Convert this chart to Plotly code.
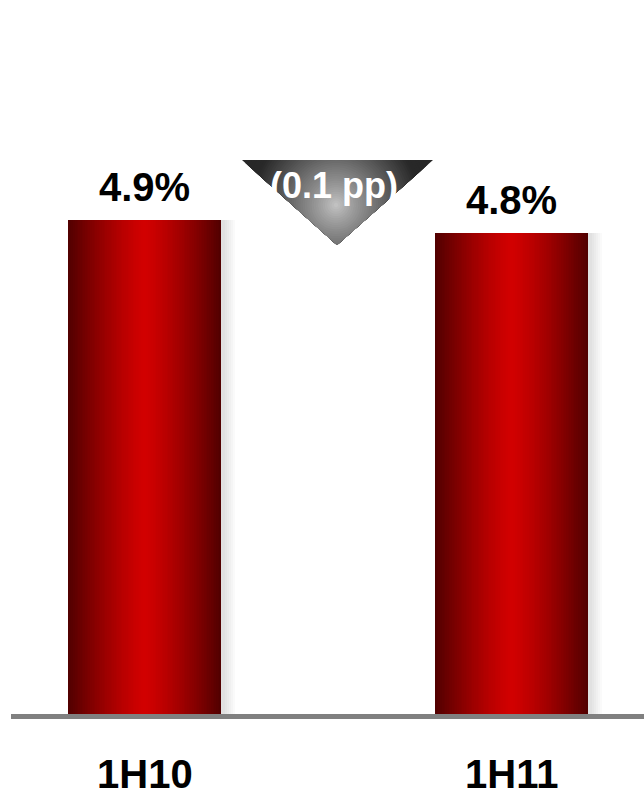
import numpy as np
import plotly.graph_objects as go

# Data
periods = ["1H10", "1H11"]
ratios = [4.9, 4.8]          # percent
change_pp = round(ratios[1] - ratios[0], 1)

W, H = 644, 799
ML, MB = 11, 85               # plot area: x 11..644, y 0..714
PLOT_W, PLOT_H = W - ML, H - MB

X_RANGE = [-0.3638, 1.361]
Y_RANGE = [1.10, 6.592]
BAR_W = 0.417

EDGE = np.array([82, 0, 0])
CENTER = np.array([210, 0, 0])


def rgb(c):
    c = np.clip(np.round(c), 0, 255).astype(int)
    return f"rgb({c[0]},{c[1]},{c[2]})"


def px_to_paper(x, y):
    return (x - ML) / PLOT_W, (PLOT_H - y) / PLOT_H


fig = go.Figure()
xs = list(range(len(periods)))

# soft shadow to the right of each column
unit = (PLOT_W) / (X_RANGE[1] - X_RANGE[0])
for ext in (12, 10, 8, 6, 4, 2):
    e = ext / unit
    fig.add_trace(go.Bar(
        x=xs, y=ratios, width=BAR_W + e, offset=-BAR_W / 2 + 2 / unit,
        marker=dict(color="rgba(0,0,0,0.018)", line=dict(width=0)),
        hoverinfo="skip", showlegend=False,
    ))

# columns with a horizontal dark-bright-dark gradient (nested overlay bars)
N = 45
for k in range(N):
    f = 1 - k / N
    c = CENTER + (EDGE - CENTER) * (f ** 1.3)
    fig.add_trace(go.Bar(
        x=xs, y=ratios, width=BAR_W * f,
        marker=dict(color=rgb(c), line=dict(width=0)),
        hoverinfo="skip", showlegend=False,
    ))

# value labels
for i, v in enumerate(ratios):
    fig.add_annotation(
        x=i, y=v, text=f"<b>{v:.1f}%</b>", showarrow=False,
        yanchor="middle", yshift=33,
        font=dict(family="Arial, Liberation Sans", size=40, color="black"),
    )

# category labels
for i, p in enumerate(periods):
    fig.add_annotation(
        x=i, y=(PLOT_H - 774) / PLOT_H, yref="paper", text=f"<b>{p}</b>",
        showarrow=False, yanchor="middle",
        font=dict(family="Arial, Liberation Sans", size=40, color="black"),
    )

shapes = []
# baseline
shapes.append(dict(type="line", xref="paper", yref="paper",
                   x0=0, x1=1, y0=(PLOT_H - 716.5) / PLOT_H, y1=(PLOT_H - 716.5) / PLOT_H,
                   line=dict(color="#808080", width=5), layer="above"))


# change marker: downward triangle with a radial grey gradient
tri = [(242.0, 160.0), (337.0, 245.0), (433.0, 160.0)]


def clip_poly(poly, clipper):
    def inside(p, a, b):
        return (b[0] - a[0]) * (p[1] - a[1]) - (b[1] - a[1]) * (p[0] - a[0]) >= 0

    def inter(p, q, a, b):
        x1, y1 = p; x2, y2 = q; x3, y3 = a; x4, y4 = b
        den = (x1 - x2) * (y3 - y4) - (y1 - y2) * (x3 - x4)
        t = ((x1 - x3) * (y3 - y4) - (y1 - y3) * (x3 - x4)) / den
        return (x1 + t * (x2 - x1), y1 + t * (y2 - y1))

    out = poly
    n = len(clipper)
    for i in range(n):
        a, b = clipper[i], clipper[(i + 1) % n]
        inp, out = out, []
        if not inp:
            break
        s = inp[-1]
        for e in inp:
            if inside(e, a, b):
                if not inside(s, a, b):
                    out.append(inter(s, e, a, b))
                out.append(e)
            elif inside(s, a, b):
                out.append(inter(s, e, a, b))
            s = e
    return out


# orient clipper so that "inside" test is consistent
area = sum(tri[i][0] * tri[(i + 1) % 3][1] - tri[(i + 1) % 3][0] * tri[i][1] for i in range(3))
if area < 0:
    tri = tri[::-1]


def path_of(poly):
    pts = [px_to_paper(x, y) for x, y in poly]
    return "M " + " L ".join(f"{x:.5f},{y:.5f}" for x, y in pts) + " Z"


DARK = np.array([40, 40, 40])
LIGHT = np.array([200, 200, 200])
cx, cy = 336.0, 205.0
shapes.append(dict(type="path", xref="paper", yref="paper", path=path_of(tri),
                   fillcolor=rgb(DARK), line=dict(width=0), layer="above"))
R = 100.0
levels = 45
theta = np.linspace(0, 2 * np.pi, 72, endpoint=False)
for k in range(levels):
    r = R * (1 - k / levels)
    t = min(1.0, r / 85.0)
    c = LIGHT + (DARK - LIGHT) * (t ** 0.85)
    circ = [(cx + r * np.cos(a), cy + r * np.sin(a)) for a in theta]
    poly = clip_poly(circ, tri)
    if len(poly) >= 3:
        shapes.append(dict(type="path", xref="paper", yref="paper", path=path_of(poly),
                           fillcolor=rgb(c), line=dict(width=0), layer="above"))

fig.add_annotation(
    x=px_to_paper(333.5, 0)[0], y=px_to_paper(0, 186)[1], xref="paper", yref="paper",
    text=f"<b>({abs(change_pp):.1f} pp)</b>", showarrow=False,
    xanchor="center", yanchor="middle",
    font=dict(family="Arial, Liberation Sans", size=36, color="white"),
)

fig.update_layout(
    width=W, height=H,
    margin=dict(l=ML, r=0, t=0, b=MB, pad=0),
    paper_bgcolor="white", plot_bgcolor="white",
    barmode="overlay", bargap=0,
    showlegend=False,
    shapes=shapes,
    xaxis=dict(range=X_RANGE, visible=False, fixedrange=True),
    yaxis=dict(range=Y_RANGE, visible=False, fixedrange=True),
)

fig.write_html("out.html")
